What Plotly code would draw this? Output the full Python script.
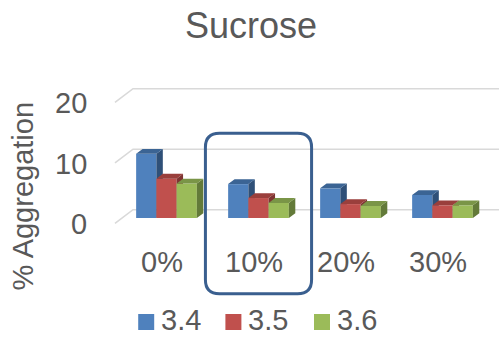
import plotly.graph_objects as go

# ---- data ----
categories = ["0%", "10%", "20%", "30%"]
series_names = ["3.4", "3.5", "3.6"]
values_34 = [10.6, 5.6, 4.9, 3.8]
values_35 = [6.5, 3.3, 2.3, 2.1]
values_36 = [5.7, 2.5, 2.0, 2.1]
y_ticks = [0, 10, 20]

series_values = [values_34, values_35, values_36]
front_colors = ["#4F81BD", "#C0504D", "#9BBB59"]
top_colors = ["#3B6494", "#9A3F3C", "#7A9547"]
side_colors = ["#2F5078", "#7E3432", "#637A39"]

# ---- canvas / scale ----
W, H = 499, 338
X0_PX, X_UNIT = 166.5, 92.0     # pixel of category 0, pixels per category
Y0_PX, Y_UNIT = 218.0, 6.05     # pixel of value 0 (front), pixels per unit
x_range = [-X0_PX / X_UNIT, (W - X0_PX) / X_UNIT]
y_range = [(Y0_PX - H) / Y_UNIT, Y0_PX / Y_UNIT]


def px_x(p):
    return (p - X0_PX) / X_UNIT


def px_y(p):
    return (Y0_PX - p) / Y_UNIT


# ---- pseudo-3D geometry (axis units) ----
bar_w = 0.22          # width of one column
dx, dy = 0.07, 0.8    # depth offset of a column (top/side faces)
wall_front_x, wall_back_x = -0.56, -0.364
floor_front_dy, back_wall_dy = -0.9, 1.37
x_right = 3.62

text_color = "#595959"
font_family = "Liberation Sans, Arial, sans-serif"

fig = go.Figure()

# gridlines: left side wall diagonal + back wall line
for v in y_ticks:
    fig.add_trace(go.Scatter(
        x=[wall_front_x, wall_back_x, x_right],
        y=[v + floor_front_dy, v + back_wall_dy, v + back_wall_dy],
        mode="lines", line=dict(color="#D9D9D9", width=1.6),
        hoverinfo="skip", showlegend=False, xaxis="x", yaxis="y"))

# one overlaid subplot per series so later series cover earlier ones
for i, (name, vals) in enumerate(zip(series_names, series_values)):
    ax = str(i + 2)
    xa, ya = "x" + ax, "y" + ax
    offs = (i - 1) * bar_w
    xs = [k + offs for k in range(len(categories))]
    fig.add_trace(go.Bar(
        x=xs, y=vals, width=bar_w, name=name,
        marker=dict(color=front_colors[i], line=dict(width=0)),
        showlegend=False, xaxis=xa, yaxis=ya, hoverinfo="skip"))
    side_x, side_y, top_x, top_y = [], [], [], []
    for xc, v in zip(xs, vals):
        xl, xr = xc - bar_w / 2, xc + bar_w / 2
        side_x += [xr, xr + dx, xr + dx, xr, xr, None]
        side_y += [0, dy, v + dy, v, 0, None]
        top_x += [xl, xl + dx, xr + dx, xr, xl, None]
        top_y += [v, v + dy, v + dy, v, v, None]
    fig.add_trace(go.Scatter(
        x=side_x, y=side_y, fill="toself", fillcolor=side_colors[i], mode="lines",
        line=dict(width=0, color=side_colors[i]), showlegend=False,
        hoverinfo="skip", xaxis=xa, yaxis=ya))
    fig.add_trace(go.Scatter(
        x=top_x, y=top_y, fill="toself", fillcolor=top_colors[i], mode="lines",
        line=dict(width=0, color=top_colors[i]), showlegend=False,
        hoverinfo="skip", xaxis=xa, yaxis=ya))

annotations = []

# legend: coloured keys + labels along the bottom edge
legend_key_px = [146.2, 233.4, 322.0]
legend_y_px = 322.0
fig.add_trace(go.Scatter(
    x=[px_x(p) for p in legend_key_px], y=[px_y(legend_y_px)] * 3,
    mode="markers", marker=dict(symbol="square", size=16, color=front_colors),
    cliponaxis=False, showlegend=False, hoverinfo="skip", xaxis="x", yaxis="y"))
for p, name in zip(legend_key_px, series_names):
    annotations.append(dict(
        x=px_x(p + 14), y=0, xref="x", yref="paper", text=name,
        showarrow=False, xanchor="left", yanchor="bottom", height=34,
        borderpad=0, font=dict(size=29, color=text_color)))

# value-axis labels
for v in y_ticks:
    annotations.append(dict(
        x=-0.84, y=v - 1.0, xref="x", yref="y", text=str(v), showarrow=False,
        xanchor="right", yanchor="middle", font=dict(size=29, color=text_color)))
# category labels
for k, c in enumerate(categories):
    annotations.append(dict(
        x=k - 0.054, y=-7.3, xref="x", yref="y", text=c, showarrow=False,
        xanchor="center", yanchor="middle", font=dict(size=29, color=text_color)))
# axis title
annotations.append(dict(
    x=-1.56, y=3.7, xref="x", yref="y", text="% Aggregation", showarrow=False,
    textangle=-90, xanchor="center", yanchor="middle",
    font=dict(size=29, color=text_color)))
# chart title
annotations.append(dict(
    x=251 / W, y=1 - 26 / H, xref="paper", yref="paper", text="Sucrose",
    showarrow=False, xanchor="center", yanchor="middle",
    font=dict(size=36, color=text_color)))

# rounded highlight frame around the 10% group
hx0, hx1 = 1 - 0.577, 1 + 0.577
hy0, hy1 = -12.5, 14.0
rx, ry = 14 / X_UNIT, 14 / Y_UNIT
frame = (f"M {hx0 + rx},{hy1} L {hx1 - rx},{hy1} Q {hx1},{hy1} {hx1},{hy1 - ry} "
         f"L {hx1},{hy0 + ry} Q {hx1},{hy0} {hx1 - rx},{hy0} "
         f"L {hx0 + rx},{hy0} Q {hx0},{hy0} {hx0},{hy0 + ry} "
         f"L {hx0},{hy1 - ry} Q {hx0},{hy1} {hx0 + rx},{hy1} Z")

axis_common = dict(range=x_range, visible=False, fixedrange=True,
                   showgrid=False, zeroline=False)
yaxis_common = dict(range=y_range, visible=False, fixedrange=True,
                    showgrid=False, zeroline=False)

layout_axes = dict(xaxis=dict(**axis_common), yaxis=dict(**yaxis_common))
for n in (2, 3, 4):
    layout_axes[f"xaxis{n}"] = dict(**axis_common, overlaying="x", matches="x")
    layout_axes[f"yaxis{n}"] = dict(**yaxis_common, overlaying="y", matches="y")

fig.update_layout(
    width=W, height=H,
    margin=dict(l=0, r=0, t=0, b=0, autoexpand=False),
    paper_bgcolor="white", plot_bgcolor="white",
    font=dict(family=font_family, color=text_color),
    showlegend=False,
    annotations=annotations,
    shapes=[dict(type="path", path=frame, xref="x", yref="y",
                 line=dict(color="#3A5F8F", width=3), layer="above")],
    **layout_axes,
)

fig.write_html("out.html")
